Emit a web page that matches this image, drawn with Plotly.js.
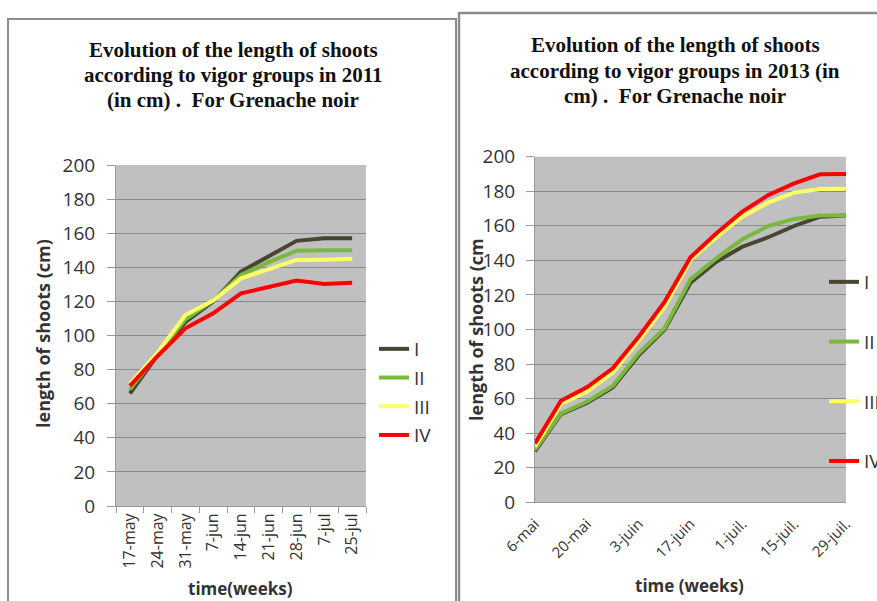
<!DOCTYPE html>
<html>
<head>
<meta charset="utf-8">
<script src="https://cdn.plot.ly/plotly-3.0.1.min.js"></script>
<style>html,body{margin:0;padding:0;background:#fff;}#chart{width:877px;height:601px;}</style>
</head>
<body>
<div id="chart"></div>
<script>
// ---- data: 2011 ----
const weeks2011 = ['17-may','24-may','31-may','7-jun','14-jun','21-jun','28-jun','7-jul','25-jul'];
const g2011_I   = [66, 88.5, 108, 120, 137.5, 146.5, 155.5, 157, 157];
const g2011_II  = [68.4, 89, 109.5, 120.5, 135.5, 143, 149.7, 150, 150];
const g2011_III = [71.5, 90, 112, 120.5, 133.5, 139, 144.3, 144.5, 145];
const g2011_IV  = [70.4, 88, 104.2, 113, 124.7, 128.6, 132.2, 130.2, 131];

// ---- data: 2013 ----
const dates2013 = ['2013-05-06','2013-05-13','2013-05-20','2013-05-27','2013-06-03','2013-06-10','2013-06-17','2013-06-24','2013-07-01','2013-07-08','2013-07-15','2013-07-22','2013-07-29'];
const g2013_I   = [29.5, 51, 57.5, 66.5, 85, 100, 127.1, 139.2, 147.9, 153.4, 159.9, 165.3, 166];
const g2013_II  = [30.3, 51.5, 58.2, 67.3, 86.2, 100.7, 129, 141.2, 152.2, 159.9, 164, 165.9, 166];
const g2013_III = [32.2, 56.9, 64, 75, 93.5, 113, 140.2, 153.4, 165.3, 173.4, 179.2, 181.3, 181.5];
const g2013_IV  = [34.1, 58.8, 66.5, 77.5, 95.8, 116, 141.8, 155.7, 168.2, 177.8, 184.6, 189.8, 190];
const tickDates2013 = ['2013-05-06','2013-05-20','2013-06-03','2013-06-17','2013-07-01','2013-07-15','2013-07-29'];
const tickLabels2013 = ['6-mai','20-mai','3-juin','17-juin','1-juil.','15-juil.','29-juil.'];

const groupNames = ['I','II','III','IV'];
const groupColors = ['#4a4530','#7ab83e','#ffff66','#ff0000'];

const title2011 = ['Evolution of the length of shoots', 'according to vigor groups in 2011', '(in cm) .  For Grenache noir'];
const title2013 = ['Evolution of the length of shoots', 'according to vigor groups in 2013 (in', 'cm) .  For Grenache noir'];

const W = 877, H = 601;
const px = v => v / W;
const py = v => 1 - v / H;

const sans = '"Open Sans", "DejaVu Sans", sans-serif';
const serif = '"Liberation Serif", "DejaVu Serif", serif';
const txt = '#333333';

const s2011 = [g2011_I, g2011_II, g2011_III, g2011_IV];
const s2013 = [g2013_I, g2013_II, g2013_III, g2013_IV];

const traces = [];
s2011.forEach((ys, i) => traces.push({
  x: weeks2011, y: ys, type: 'scatter', mode: 'lines', name: groupNames[i],
  line: {color: groupColors[i], width: 4}, xaxis: 'x', yaxis: 'y',
  legend: 'legend', legendgroup: 'a' + i
}));
s2013.forEach((ys, i) => traces.push({
  x: dates2013, y: ys, type: 'scatter', mode: 'lines', name: groupNames[i],
  line: {color: groupColors[i], width: 4}, xaxis: 'x2', yaxis: 'y2',
  legend: 'legend2', legendgroup: 'b' + i
}));

const yaxisCommon = {
  range: [0, 200], dtick: 20, showgrid: true, gridcolor: '#8a8a8a', gridwidth: 1,
  zeroline: false, showline: true, linecolor: '#9a9a9a', linewidth: 1,
  ticks: 'outside', ticklen: 8, tickcolor: '#9a9a9a',
  tickfont: {family: sans, size: 19, color: txt}
};

const titleAnn = (lines, cx, ys) => lines.map((t, i) => ({
  xref: 'paper', yref: 'paper', x: px(cx), y: py(ys[i]), xanchor: 'center', yanchor: 'middle',
  showarrow: false, text: '<b>' + t + '</b>', font: {family: serif, size: 21, color: '#111'}
}));

const layout = {
  width: W, height: H,
  margin: {l: 0, r: 0, t: 0, b: 0, autoexpand: false},
  paper_bgcolor: '#ffffff', plot_bgcolor: '#c0c0c0',
  showlegend: true,
  xaxis: {
    domain: [px(116), px(366)], anchor: 'y', type: 'category',
    range: [-0.5, 8.5], tickson: 'boundaries', ticks: 'outside', ticklen: 6,
    tickcolor: '#9a9a9a', showline: true, linecolor: '#9a9a9a', showgrid: false,
    tickangle: -90, tickfont: {family: sans, size: 16, color: txt}
  },
  yaxis: Object.assign({}, yaxisCommon, {domain: [py(506), py(165)], anchor: 'x', ticklabelstandoff: 8}),
  xaxis2: {
    domain: [px(535), px(846)], anchor: 'y2', type: 'date',
    range: [dates2013[0], dates2013[dates2013.length - 1]],
    tickmode: 'array', tickvals: tickDates2013, ticktext: tickLabels2013,
    ticks: '', showline: true, linecolor: '#9a9a9a', showgrid: false,
    tickangle: -45, tickfont: {family: sans, size: 15, color: txt}, ticklabelstandoff: 6
  },
  yaxis2: Object.assign({}, yaxisCommon, {domain: [py(502.3), py(156.7)], anchor: 'x2', ticklabelstandoff: 7}),
  legend: {
    x: px(374), y: py(330), xanchor: 'left', yanchor: 'top',
    bgcolor: 'rgba(0,0,0,0)', borderwidth: 0, tracegroupgap: 1,
    font: {family: sans, size: 19, color: txt}
  },
  legend2: {
    x: px(824), y: py(263), xanchor: 'left', yanchor: 'top',
    bgcolor: 'rgba(0,0,0,0)', borderwidth: 0, tracegroupgap: 32,
    font: {family: sans, size: 19, color: txt}
  },
  shapes: [
    {type: 'rect', xref: 'paper', yref: 'paper', x0: px(8), x1: px(456), y0: py(19), y1: -0.05,
     line: {color: '#8c8c8c', width: 2}, fillcolor: 'rgba(0,0,0,0)'},
    {type: 'rect', xref: 'paper', yref: 'paper', x0: px(459), x1: 1.05, y0: py(13), y1: -0.05,
     line: {color: '#8c8c8c', width: 2.5}, fillcolor: 'rgba(0,0,0,0)'}
  ],
  annotations: [].concat(
    titleAnn(title2011, 233, [50, 75, 100]),
    titleAnn(title2013, 675, [45, 71, 96]),
    [
    {xref: 'paper', yref: 'paper', x: px(240), y: py(588), xanchor: 'center', yanchor: 'middle',
     showarrow: false, text: '<b>time(weeks)</b>', font: {family: sans, size: 17, color: txt}},
    {xref: 'paper', yref: 'paper', x: px(689), y: py(585), xanchor: 'center', yanchor: 'middle',
     showarrow: false, text: '<b>time (weeks)</b>', font: {family: sans, size: 17, color: txt}},
    {xref: 'paper', yref: 'paper', x: px(43), y: py(334), xanchor: 'center', yanchor: 'middle',
     showarrow: false, textangle: -90, text: '<b>length of shoots (cm)</b>',
     font: {family: sans, size: 18, color: txt}},
    {xref: 'paper', yref: 'paper', x: px(476), y: py(330), xanchor: 'center', yanchor: 'middle',
     showarrow: false, textangle: -90, text: '<b>length of shoots (cm</b>',
     font: {family: sans, size: 18, color: txt}}
    ]
  )
};

Plotly.newPlot('chart', traces, layout, {displayModeBar: false, staticPlot: true});
</script>
</body>
</html>
